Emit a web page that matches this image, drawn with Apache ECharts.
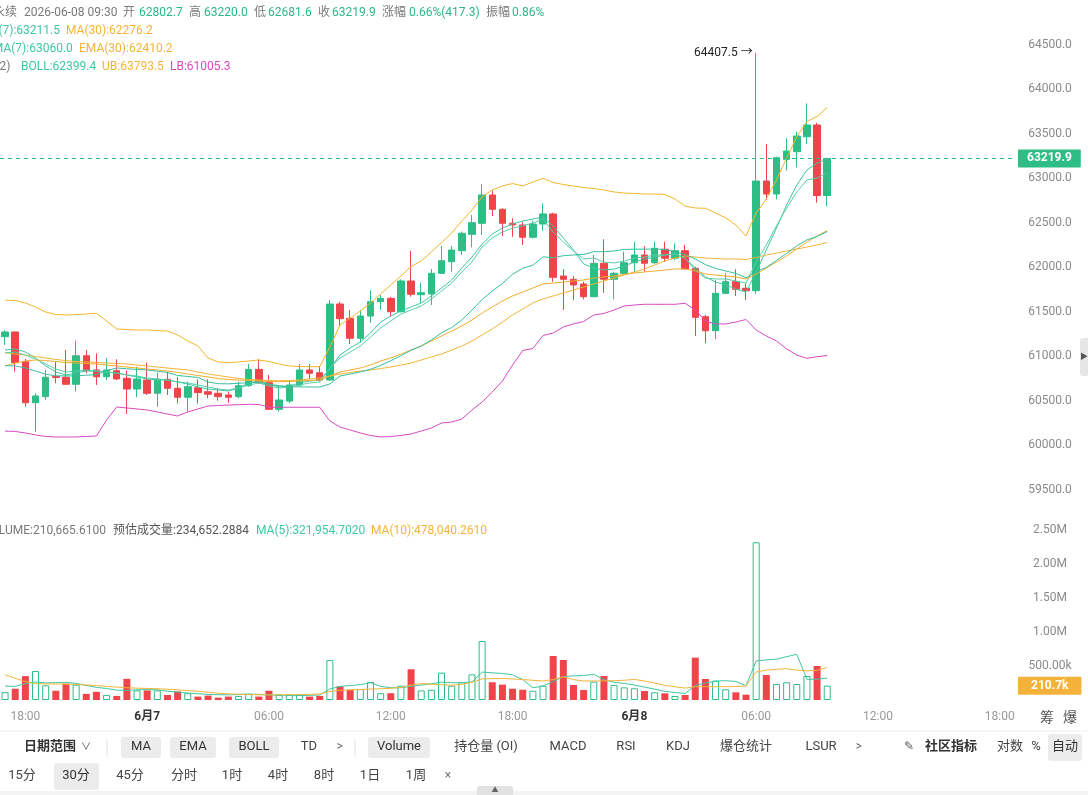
<!DOCTYPE html>
<html>
<head>
<meta charset="utf-8">
<script src="https://cdn.jsdelivr.net/npm/echarts@6/dist/echarts.min.js"></script>
<style>
  html, body { margin: 0; padding: 0; background: #fff; }
  #chart { width: 1088px; height: 795px; }
</style>
</head>
<body>
<div id="chart"></div>
<script>
// 30分K线，第一根 06-06 17:00，最后一根 06-08 09:30
// [开, 高, 低, 收]
const ohlc = [
  [61217,61292,61124,61270],[61270,61275,60824,60925],[60936,60966,60430,60475],[60475,60581,60149,60551],
  [60543,60843,60506,60761],[60770,60936,60693,60758],[60761,61067,60674,60682],[60682,61172,60599,61003],
  [61003,61067,60806,60835],[60843,61030,60674,60767],[60767,60974,60730,60843],[60835,60963,60730,60742],
  [60749,60835,60348,60629],[60629,60880,60536,60742],[60730,60925,60562,60581],[60581,60812,60430,60738],
  [60738,60824,60562,60637],[60637,60761,60468,60536],[60536,60711,60374,60655],[60644,60738,60468,60588],
  [60599,60738,60525,60570],[60581,60637,60498,60543],[60562,60599,60475,60536],[60543,60711,60525,60666],
  [60666,60910,60655,60850],[60850,60963,60685,60700],[60700,60787,60393,60401],[60401,60674,60374,60506],
  [60494,60730,60468,60674],[60674,60910,60655,60843],[60843,60910,60738,60806],[60812,60888,60711,60730],
  [60730,61629,60719,61584],[61584,61610,61329,61419],[61423,61517,61135,61199],[61199,61517,61149,61449],
  [61449,61734,61374,61610],[61610,61685,61517,61648],[61648,61666,61442,61498],[61498,61862,61490,61843],
  [61843,62183,61666,61693],[61689,61824,61592,61711],[61697,61978,61573,61929],[61929,62236,61921,62071],
  [62059,62236,61947,62191],[62183,62397,62135,62379],[62367,62584,62221,62498],[62491,62933,62360,62809],
  [62809,62857,62573,62648],[62648,62660,62348,62491],[62491,62547,62340,62472],[62472,62509,62247,62334],
  [62334,62520,62322,62483],[62483,62716,62408,62596],[62596,62610,61835,61884],[61899,61974,61517,61862],
  [61862,61899,61629,61798],[61809,61835,61637,61666],[61666,62135,61660,62042],[62042,62311,61711,61862],
  [61862,61947,61637,61929],[61929,62172,61921,62048],[62048,62284,61947,62135],[62135,62236,61947,62042],
  [62048,62284,62034,62210],[62199,62284,62059,62098],[62098,62266,62079,62183],[62183,62247,61974,61978],
  [61985,62003,61225,61435],[61442,61461,61143,61284],[61284,61854,61188,61704],[61704,61929,61697,61835],
  [61835,61974,61674,61749],[61761,61817,61629,61734],[61734,64407.5,61697,62966],[62966,63382,62753,62820],
  [62820,63239,62761,63228],[63210,63446,63082,63303],[63296,63520,63120,63472],[63464,63839,63382,63596],
  [63596,63621,62722,62802.7],[62802.7,63220.0,62681.6,63219.9]
];

const ma7 = [61067,61079,61045,60978,60888,60820,60787,60809,60831,60831,
  60820,60809,60787,60764,60742,60730,60730,60708,60685,60652,
  60629,60618,60607,60640,60697,60719,60685,60652,60663,60697,
  60719,60730,60854,61011,61090,61157,61258,61382,61449,61506,
  61551,61596,61674,61764,61854,61989,62112,62258,62371,62438,
  62483,62517,62539,62562,62461,62326,62191,62034,61989,61966,
  61977,62011,62056,62090,62112,62135,62146,62101,61989,61888,
  61831,61798,61753,61719,61944,62191,62438,62697,62921,63090,
  63169,63211.5];
const ma30 = [61037,61022,61011,60994,60977,60961,60949,60938,60933,60927,
  60921,60916,60910,60899,60888,60876,60865,60854,60843,60820,
  60798,60781,60764,60747,60736,60730,60725,60722,60725,60730,
  60742,60753,60775,60798,60815,60831,60843,60859,60876,60899,
  60921,60955,60989,61022,61067,61112,61169,61236,61303,61382,
  61461,61528,61596,61640,61674,61708,61742,61775,61809,61843,
  61876,61910,61944,61978,62022,62067,62101,62124,62112,62101,
  62096,62090,62090,62084,62107,62135,62157,62180,62202,62225,
  62247,62276.2];
const ema7 = [61034,61045,61011,60966,60910,60854,60820,60831,60843,60831,
  60820,60809,60787,60775,60753,60742,60730,60708,60697,60674,
  60652,60629,60618,60640,60674,60697,60663,60640,60652,60674,
  60697,60708,60865,60978,61045,61112,61213,61314,61393,61472,
  61517,61562,61640,61730,61820,61944,62056,62225,62326,62393,
  62438,62461,62494,62539,62393,62281,62180,62090,62101,62056,
  62045,62067,62101,62112,62135,62135,62146,62101,61966,61876,
  61865,61865,61843,61820,62056,62247,62461,62663,62843,62978,
  63000,63060.0];
const ema30 = [60888,60921,60944,60955,60949,60938,60927,60921,60916,60910,
  60899,60888,60876,60865,60854,60843,60831,60815,60798,60781,
  60764,60747,60736,60730,60725,60719,60713,60711,60713,60719,
  60725,60730,60775,60820,60843,60865,60899,60944,60978,61022,
  61067,61112,61169,61225,61281,61337,61404,61483,61551,61618,
  61674,61719,61764,61809,61820,61831,61843,61854,61876,61888,
  61899,61916,61933,61944,61955,61966,61978,61978,61955,61921,
  61910,61899,61888,61865,61921,61989,62056,62124,62202,62281,
  62348,62410.2];
const bollMid = [60892,60888,60865,60832,60795,60778,60776,60778,60784,60791,
  60837,60865,60857,60849,60843,60829,60815,60781,60770,60759,
  60708,60689,60687,60693,60701,60705,60681,60667,60656,60653,
  60652,60652,60686,60775,60798,60821,60851,60894,60947,61003,
  61065,61112,61180,61261,61320,61405,61517,61635,61730,61815,
  61919,61986,62020,62114,62104,62127,62135,62141,62172,62172,
  62180,62197,62200,62201,62201,62198,62173,62139,62090,62027,
  61984,61956,61927,61879,61950,61995,62074,62152,62236,62305,
  62342,62399.4];
const bollUp = [61626,61624,61595,61551,61494,61466,61461,61466,61472,61480,
  61393,61303,61298,61292,61292,61286,61281,61236,61169,61112,
  60977,60933,60925,60933,60944,60955,60938,60910,60888,60882,
  60880,60880,61101,61348,61427,61506,61595,61697,61798,61899,
  62006,62067,62169,62275,62382,62517,62640,62787,62865,62910,
  62938,62910,62955,62997,62949,62927,62910,62893,62882,62865,
  62843,62831,62826,62820,62820,62815,62764,62685,62663,62660,
  62607,62551,62472,62348,62607,62764,62978,63225,63461,63635,
  63691,63793.5];
const bollLow = [60157,60152,60135,60113,60096,60090,60090,60090,60096,60101,
  60281,60427,60416,60405,60393,60371,60348,60326,60371,60405,
  60438,60444,60449,60453,60457,60455,60424,60424,60424,60424,
  60424,60424,60270,60202,60169,60135,60107,60090,60096,60107,
  60124,60157,60191,60247,60258,60292,60393,60483,60595,60719,
  60899,61062,61084,61230,61258,61326,61360,61388,61461,61478,
  61517,61562,61573,61581,61581,61581,61581,61592,61517,61393,
  61360,61360,61382,61410,61292,61225,61169,61079,61011,60974,
  60992,61005.3];

const volume = [115000,166000,351000,427000,216000,136000,241000,226000,90000,120000,
  75000,60000,311000,141000,141000,141000,75000,125000,100000,50000,
  65000,35000,50000,60000,90000,50000,136000,75000,75000,75000,
  50000,60000,587000,201000,151000,161000,266000,100000,100000,211000,
  452000,141000,151000,402000,211000,261000,376000,868000,261000,226000,
  166000,151000,136000,211000,647000,588000,221000,147000,270000,353000,
  221000,186000,172000,132000,113000,98000,59000,74000,623000,309000,
  284000,157000,113000,78000,2319000,368000,235000,260000,235000,353000,
  500000,210665.61];
const volMa5 = [205000,200000,240000,265000,251000,255000,260000,245000,215000,185000,
  170000,145000,140000,150000,152000,150000,128000,118000,102000,92000,
  82000,78000,76000,80000,88000,82000,75000,72000,70000,66000,
  68000,75000,161000,200000,212000,226000,255000,200000,180000,180000,
  200000,220000,240000,261000,255000,255000,265000,410000,400000,390000,
  370000,300000,180000,205000,272000,345000,355000,360000,377000,300000,
  260000,245000,220000,190000,160000,128000,110000,95000,215000,248000,
  278000,284000,272000,210000,575000,590000,600000,637000,672000,304000,
  306000,321954.702];
const volMa10 = [370000,320000,270000,240000,237000,236000,232000,228000,222000,212000,
  200000,190000,180000,174000,170000,166000,158000,150000,138000,128000,
  115000,100000,90000,85000,80000,77000,75000,76000,78000,80000,
  83000,88000,125000,141000,148000,155000,161000,165000,172000,185000,
  220000,241000,232000,225000,218000,230000,260000,311000,313000,316000,
  310000,300000,290000,280000,300000,340000,300000,280000,280000,280000,
  284000,290000,302000,280000,250000,215000,195000,175000,195000,196000,
  196000,196000,198000,206000,412000,440000,450000,461000,440000,428000,
  436000,478040.261];

const lastPrice = 63219.9;
const lastVolume = 210665.61;
const topHigh = 64407.5;

// 时间轴：30分钟一格，到 06-08 18:30
const categories = [];
for (let k = 0; k < 100; k++) {
  const m = 17 * 60 + 30 * k;
  const day = 6 + Math.floor(m / 1440);
  const hh = Math.floor((m % 1440) / 60), mm = m % 60;
  categories.push('06-0' + day + ' ' + String(hh).padStart(2, '0') + ':' + String(mm).padStart(2, '0'));
}

const GREEN = '#2ebd85', RED = '#ef454a';
const TEAL = '#3ec7a3', ORANGE = '#f4b43a', MAGENTA = '#d64bc2';
const FONT = 'Roboto, "Noto Sans CJK SC", sans-serif';

const candleData = ohlc.map(r => [r[0], r[3], r[2], r[1]]);
const volData = volume.map((v, i) => {
  const up = ohlc[i][3] >= ohlc[i][0];
  return { value: v, itemStyle: up ? { color: '#fff', borderColor: GREEN, borderWidth: 1 } : { color: RED } };
});

function showTick(idx, val) {
  return val.slice(-2) === '00' && parseInt(val.slice(6, 8), 10) % 6 === 0;
}

function txt(x, y, s, fill, size, weight, align) {
  return {
    type: 'text', x: x, y: y, silent: true, z: 100,
    style: {
      text: s, fill: fill,
      font: (weight || 'normal') + ' ' + (size || 12) + 'px ' + FONT,
      align: align || 'left', textAlign: align || 'left',
      verticalAlign: 'middle', textVerticalAlign: 'middle'
    }
  };
}
function box(x, y, w, h, fill) {
  return { type: 'rect', silent: true, z: 90, shape: { x: x, y: y, width: w, height: h, r: 3 }, style: { fill: fill } };
}
function vline(x, y1, y2) {
  return { type: 'line', silent: true, z: 90, shape: { x1: x, y1: y1, x2: x, y2: y2 }, style: { stroke: '#e3e3e3', lineWidth: 1 } };
}

const G = '#2bb78a', GRAY = '#7a7a7a', DARK = '#333';
const graphics = [
  // 顶部行情信息
  txt(-7, 13, '永续', GRAY), txt(24, 13, '2026-06-08 09:30', GRAY),
  txt(123, 13, '开', GRAY), txt(139, 13, '62802.7', G),
  txt(189, 13, '高', GRAY), txt(204, 13, '63220.0', G),
  txt(254, 13, '低', GRAY), txt(268, 13, '62681.6', G),
  txt(318, 13, '收', GRAY), txt(332, 13, '63219.9', G),
  txt(382, 13, '涨幅', GRAY), txt(409, 13, '0.66%(417.3)', G),
  txt(486, 13, '振幅', GRAY), txt(512, 13, '0.86%', G),
  txt(-20, 31, 'MA(7):63211.5', TEAL), txt(66, 31, 'MA(30):62276.2', ORANGE),
  txt(-14, 49, 'EMA(7):63060.0', TEAL), txt(79, 49, 'EMA(30):62410.2', ORANGE),
  txt(-49, 67, 'BOLL(20,2)', GRAY), txt(21, 67, 'BOLL:62399.4', TEAL),
  txt(102, 67, 'UB:63793.5', ORANGE), txt(170, 67, 'LB:61005.3', MAGENTA),
  // 成交量信息
  txt(-17, 531, 'VOLUME:210,665.6100', GRAY), txt(113, 531, '预估成交量:234,652.2884', '#555'),
  txt(256, 531, 'MA(5):321,954.7020', TEAL), txt(371, 531, 'MA(10):478,040.2610', ORANGE),
  txt(1047, 718, '筹', '#555', 14, 'normal', 'center'), txt(1070, 718, '爆', '#555', 14, 'normal', 'center'),
  // 右侧把手
  box(1080, 338, 10, 38, '#e6e6e6'), txt(1084, 357, '▶', '#555', 8, 'normal', 'center'),
  // 分隔线
  { type: 'line', silent: true, z: 90, shape: { x1: 0, y1: 731, x2: 1088, y2: 731 }, style: { stroke: '#ececec', lineWidth: 1 } },
  // 工具栏第一行
  txt(50, 747, '日期范围', DARK, 13, 'bold', 'center'), txt(86, 747, '∨', '#555', 10, 'normal', 'center'),
  vline(107, 739, 756),
  box(121, 737, 40, 21, '#ececec'), txt(141, 747, 'MA', DARK, 13, 'normal', 'center'),
  box(170, 737, 46, 21, '#ececec'), txt(193, 747, 'EMA', DARK, 13, 'normal', 'center'),
  box(229, 737, 50, 21, '#ececec'), txt(254, 747, 'BOLL', DARK, 13, 'normal', 'center'),
  txt(309, 747, 'TD', '#444', 13, 'normal', 'center'), txt(340, 747, '>', '#666', 12, 'normal', 'center'),
  vline(355, 739, 756),
  box(368, 737, 62, 21, '#ececec'), txt(399, 747, 'Volume', DARK, 13, 'normal', 'center'),
  txt(486, 747, '持仓量 (OI)', '#444', 13, 'normal', 'center'),
  txt(568, 747, 'MACD', '#444', 13, 'normal', 'center'),
  txt(626, 747, 'RSI', '#444', 13, 'normal', 'center'),
  txt(678, 747, 'KDJ', '#444', 13, 'normal', 'center'),
  txt(746, 747, '爆仓统计', '#444', 13, 'normal', 'center'),
  txt(821, 747, 'LSUR', '#444', 13, 'normal', 'center'),
  txt(859, 747, '>', '#666', 12, 'normal', 'center'),
  txt(909, 747, '✎', '#555', 12, 'normal', 'center'),
  txt(951, 747, '社区指标', DARK, 13, 'bold', 'center'),
  txt(1010, 747, '对数', '#444', 13, 'normal', 'center'),
  txt(1036, 747, '%', '#444', 13, 'normal', 'center'),
  box(1048, 734, 34, 27, '#ececec'), txt(1065, 747, '自动', DARK, 13, 'normal', 'center'),
  // 工具栏第二行
  txt(22, 776, '15分', '#444', 13, 'normal', 'center'),
  box(54, 763, 45, 27, '#ececec'), txt(76, 776, '30分', DARK, 13, 'normal', 'center'),
  txt(130, 776, '45分', '#444', 13, 'normal', 'center'),
  txt(184, 776, '分时', '#444', 13, 'normal', 'center'),
  txt(232, 776, '1时', '#444', 13, 'normal', 'center'),
  txt(278, 776, '4时', '#444', 13, 'normal', 'center'),
  txt(324, 776, '8时', '#444', 13, 'normal', 'center'),
  txt(370, 776, '1日', '#444', 13, 'normal', 'center'),
  txt(416, 776, '1周', '#444', 13, 'normal', 'center'),
  txt(448, 776, '×', '#777', 12, 'normal', 'center'),
  // 底部
  { type: 'rect', silent: true, z: 89, shape: { x: 0, y: 791, width: 1088, height: 4 }, style: { fill: '#f3f3f3' } },
  box(477, 786, 36, 12, '#e2e2e2'), txt(495, 790, '▲', '#666', 7, 'normal', 'center')
];

function lineSeries(name, data, color, xi) {
  return {
    name: name, type: 'line', data: data, xAxisIndex: xi, yAxisIndex: xi,
    symbol: 'none', silent: true, lineStyle: { color: color, width: 1 }
  };
}

const chart = echarts.init(document.getElementById('chart'), null, { renderer: 'canvas' });
chart.setOption({
  animation: false,
  backgroundColor: '#fff',
  textStyle: { fontFamily: FONT },
  grid: [
    { left: 0, right: 73, top: 0, height: 534 },
    { left: 0, right: 73, top: 530, height: 170 }
  ],
  xAxis: [
    { type: 'category', gridIndex: 0, data: categories, boundaryGap: true,
      axisLine: { show: false }, axisTick: { show: false }, axisLabel: { show: false }, splitLine: { show: false } },
    { type: 'category', gridIndex: 1, data: categories, boundaryGap: true,
      axisLine: { show: false }, axisTick: { show: false }, splitLine: { show: false },
      axisLabel: {
        interval: showTick, margin: 11, fontSize: 12,
        formatter: function (val) {
          const hh = val.slice(6, 8);
          if (hh === '00') return '{d|6月' + parseInt(val.slice(3, 5), 10) + '}';
          return '{t|' + val.slice(6) + '}';
        },
        rich: { d: { color: '#333', fontWeight: 'bold', fontSize: 12 }, t: { color: '#999', fontSize: 12 } }
      } }
  ],
  yAxis: [
    { type: 'value', gridIndex: 0, position: 'right', min: 59000, max: 65000, interval: 500,
      axisLine: { show: false }, axisTick: { show: false }, splitLine: { show: false },
      axisLabel: { color: '#8a8a8a', fontSize: 12, align: 'center', margin: 35,
        formatter: v => (v === 59000 || v === 65000) ? '' : v.toFixed(1) } },
    { type: 'value', gridIndex: 1, position: 'right', min: 0, max: 2500000, interval: 500000,
      axisLine: { show: false }, axisTick: { show: false }, splitLine: { show: false },
      axisLabel: { color: '#8a8a8a', fontSize: 12, align: 'center', margin: 35,
        formatter: v => v === 0 ? '' : (v >= 1000000 ? (v / 1e6).toFixed(2) + 'M' : (v / 1e3).toFixed(2) + 'k') } }
  ],
  series: [
    {
      name: 'K', type: 'candlestick', data: candleData, xAxisIndex: 0, yAxisIndex: 0,
      barWidth: 7,
      itemStyle: { color: GREEN, color0: RED, borderColor: GREEN, borderColor0: RED, borderWidth: 1 },
      markLine: {
        silent: true, symbol: ['none', 'none'],
        lineStyle: { color: GREEN, type: [4, 4], width: 1 },
        label: { position: 'end', distance: 3, formatter: '63219.9', color: '#fff', fontWeight: 'bold',
          fontSize: 12, backgroundColor: GREEN, padding: [3, 9], borderRadius: 1 },
        data: [{ yAxis: lastPrice }]
      },
      markPoint: {
        silent: true, symbol: 'circle', symbolSize: 1, itemStyle: { color: 'rgba(0,0,0,0)' },
        label: { show: true, position: 'left', distance: 3, formatter: '64407.5 →', color: '#222', fontSize: 12 },
        data: [{ coord: [74, topHigh], value: topHigh }]
      }
    },
    lineSeries('MA7', ma7, TEAL, 0),
    lineSeries('MA30', ma30, ORANGE, 0),
    lineSeries('EMA7', ema7, '#55cfa9', 0),
    lineSeries('EMA30', ema30, '#f2ad2e', 0),
    lineSeries('BOLL', bollMid, '#35c09e', 0),
    lineSeries('UB', bollUp, '#f3b629', 0),
    lineSeries('LB', bollLow, MAGENTA, 0),
    {
      name: 'VOL', type: 'bar', data: volData, xAxisIndex: 1, yAxisIndex: 1, barWidth: 7,
      markLine: {
        silent: true, symbol: ['none', 'none'],
        lineStyle: { color: 'rgba(0,0,0,0)', width: 1, type: 'solid' },
        label: { show: true, position: 'end', distance: 3, formatter: '210.7k', color: '#fff', fontWeight: 'bold',
          fontSize: 12, backgroundColor: '#f5b23b', padding: [3, 13], borderRadius: 1 },
        data: [{ yAxis: lastVolume }]
      }
    },
    lineSeries('VMA5', volMa5, TEAL, 1),
    lineSeries('VMA10', volMa10, ORANGE, 1)
  ],
  graphic: graphics
});
</script>
</body>
</html>
